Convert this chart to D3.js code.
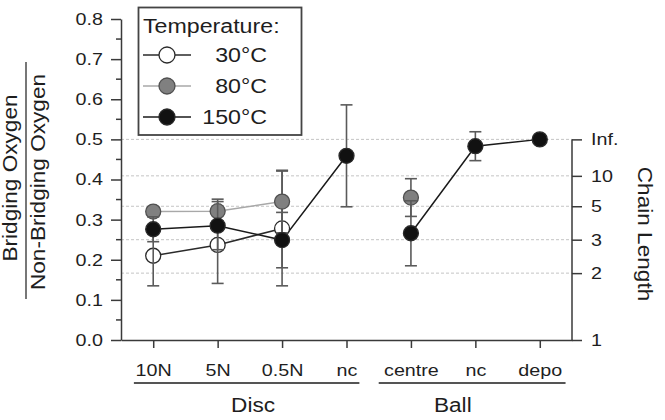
<!DOCTYPE html>
<html><head><meta charset="utf-8">
<script src="https://cdn.jsdelivr.net/npm/d3@7"></script>
<style>
body{margin:0;background:#fff}
svg{display:block}
text{font-family:"Liberation Sans",Arial,Helvetica,sans-serif;fill:#1e1e1e}
</style>
</head><body>
<svg id="chart" width="665" height="420"></svg>
<script>
// ---------------- data ----------------
const categories = ["10N", "5N", "0.5N", "nc", "centre", "nc", "depo"];
const categoryGroups = ["Disc", "Disc", "Disc", "Disc", "Ball", "Ball", "Ball"];
const groupNames = ["Disc", "Ball"];
const seriesNames = ["30°C", "80°C", "150°C"];

const values30  = [0.210, 0.237, 0.278, null, null, null, null];
const errors30  = [0.075, 0.096, 0.143, null, null, null, null];
const values80  = [0.320, 0.321, 0.345, null, 0.355, null, null];
const errors80  = [0.012, 0.030, 0.078, null, 0.047, null, null];
const values150 = [0.276, 0.285, 0.249, 0.459, 0.266, 0.483, 0.500];
const errors150 = [0.031, 0.060, 0.069, 0.127, 0.081, 0.036, null];

const leftTicks = [0.0, 0.1, 0.2, 0.3, 0.4, 0.5, 0.6, 0.7, 0.8];
const leftTickLabels = ["0.0", "0.1", "0.2", "0.3", "0.4", "0.5", "0.6", "0.7", "0.8"];
const leftMinorTicks = [0.05, 0.15, 0.25, 0.35, 0.45, 0.55, 0.65, 0.75];
const chainTicks = [1, 2, 3, 5, 10, Infinity];
const chainTickLabels = ["1", "2", "3", "5", "10", "Inf."];

// ---------------- styles ----------------
const SX = 1.16; // horizontal glyph stretch to match reference typeface metrics
const seriesStyles = [
  {fill: "#ffffff", stroke: "#2a2a2a", line: "#2a2a2a", barsAbove: true},
  {fill: "#808080", stroke: "#505050", line: "#a8a8a8", barsAbove: false},
  {fill: "#111111", stroke: "#2a2a2a", line: "#1a1a1a", barsAbove: false}
];
const seriesValues = [values30, values80, values150];
const seriesErrors = [errors30, errors80, errors150];

// chain length -> BO/NBO ratio
const ratio = L => (L === Infinity ? 0.5 : (L - 1) / (2 * (L + 1)));

const svg = d3.select("#chart");
const x = d3.scaleLinear().domain([-0.5, 6.5]).range([121, 572]);
const y = d3.scaleLinear().domain([0, 0.8]).range([340, 19]);

function stretch(sel) {
  sel.each(function () {
    const t = d3.select(this);
    const xx = +t.attr("x") || 0, yy = +t.attr("y") || 0;
    t.attr("x", 0).attr("y", 0).attr("transform", `translate(${xx},${yy}) scale(${SX},1)`);
  });
}

// ---------------- grid ----------------
svg.append("g").selectAll("line")
  .data(chainTicks.filter(L => L > 1))
  .join("line")
  .attr("x1", x(-0.5)).attr("x2", x(6.5))
  .attr("y1", d => y(ratio(d))).attr("y2", d => y(ratio(d)))
  .attr("stroke", "#c4c4c4").attr("stroke-width", 1).attr("stroke-dasharray", "3,2");

// ---------------- axes ----------------
const axisColor = "#3a3a3a";
const gl = svg.append("g").attr("transform", `translate(${x(-0.5)},0)`)
  .call(d3.axisLeft(y).tickValues(leftTicks).tickFormat((d, i) => leftTickLabels[i])
    .tickSize(10).tickSizeOuter(0).tickPadding(8));
gl.selectAll("line").attr("stroke", axisColor).attr("stroke-width", 1.5);
gl.select(".domain").attr("stroke", axisColor).attr("stroke-width", 1.5);
gl.selectAll(".tick text").attr("font-size", 17).call(stretch);
gl.selectAll(".minor").data(leftMinorTicks).join("line").attr("class", "minor")
  .attr("x1", 0).attr("x2", -5).attr("y1", d => y(d)).attr("y2", d => y(d))
  .attr("stroke", axisColor).attr("stroke-width", 1.5);

const gb = svg.append("g").attr("transform", `translate(0,${y(0)})`)
  .call(d3.axisBottom(x).tickValues(d3.range(categories.length)).tickFormat(i => categories[i])
    .tickSize(8).tickSizeOuter(0));
gb.selectAll("line").attr("stroke", axisColor).attr("stroke-width", 1.5);
gb.select(".domain").attr("stroke", axisColor).attr("stroke-width", 1.5);
gb.selectAll(".tick text").attr("font-size", 17).attr("y", 35.5).attr("dy", 0).call(stretch);

const gr = svg.append("g").attr("transform", `translate(${x(6.5)},0)`)
  .call(d3.axisRight(y).tickValues(chainTicks.map(ratio)).tickFormat((d, i) => chainTickLabels[i])
    .tickSize(10).tickPadding(9));
gr.select(".domain").remove();
gr.append("line").attr("x1", 0).attr("x2", 0).attr("y1", y(0)).attr("y2", y(ratio(Infinity)))
  .attr("stroke", axisColor).attr("stroke-width", 1.5);
gr.selectAll("line").attr("stroke", axisColor).attr("stroke-width", 1.5);
gr.selectAll(".tick text").attr("font-size", 17).call(stretch);

// group underlines + labels
const groupSpans = {Disc: [-0.3, 3.2], Ball: [3.5, 6.4]};
const groupLabelPos = {Disc: 1.55, Ball: 4.65};
groupNames.forEach(gname => {
  svg.append("line").attr("x1", x(groupSpans[gname][0])).attr("x2", x(groupSpans[gname][1]))
    .attr("y1", 383).attr("y2", 383).attr("stroke", "#555").attr("stroke-width", 2);
  svg.append("text").attr("x", x(groupLabelPos[gname])).attr("y", 412)
    .attr("text-anchor", "middle").attr("font-size", 19.5).text(gname).call(stretch);
});

// axis titles
svg.append("text").attr("font-size", 19.5).attr("text-anchor", "middle")
  .attr("transform", `translate(17,178) rotate(-90) scale(${SX},1)`).text("Bridging Oxygen");
svg.append("line").attr("x1", 26).attr("x2", 26).attr("y1", 62).attr("y2", 299)
  .attr("stroke", "#777").attr("stroke-width", 2);
svg.append("text").attr("font-size", 19.5).attr("text-anchor", "middle")
  .attr("transform", `translate(45,182) rotate(-90) scale(${SX},1)`).text("Non-Bridging Oxygen");
svg.append("text").attr("font-size", 19.5).attr("text-anchor", "middle")
  .attr("transform", `translate(638,234) rotate(90) scale(${SX},1)`).text("Chain Length");

// ---------------- series ----------------
const R = 7.5;
const line = d3.line().defined(d => d.v != null).x(d => x(d.i)).y(d => y(d.v));
const plot = svg.append("g");

seriesValues.forEach((vals, s) => {
  const pts = vals.map((v, i) => ({i, v, e: seriesErrors[s][i], g: categoryGroups[i]}));
  groupNames.forEach(gname => {
    plot.append("path").datum(pts.filter(p => p.g === gname))
      .attr("d", line).attr("fill", "none")
      .attr("stroke", seriesStyles[s].line).attr("stroke-width", 1.5);
  });
});

function drawBars(s) {
  const pts = seriesValues[s].map((v, i) => ({i, v, e: seriesErrors[s][i]})).filter(p => p.v != null && p.e != null);
  const g = plot.append("g").attr("stroke", "#5a5a5a").attr("stroke-width", 1.6);
  g.selectAll(".v").data(pts).join("line").attr("class", "v")
    .attr("x1", d => x(d.i)).attr("x2", d => x(d.i))
    .attr("y1", d => y(d.v - d.e)).attr("y2", d => y(d.v + d.e));
  [-1, 1].forEach(sg => {
    g.selectAll(".c" + (sg + 1)).data(pts).join("line").attr("class", "c" + (sg + 1))
      .attr("x1", d => x(d.i) - 6).attr("x2", d => x(d.i) + 6)
      .attr("y1", d => y(d.v + sg * d.e)).attr("y2", d => y(d.v + sg * d.e));
  });
}
function drawMarkers(s) {
  const pts = seriesValues[s].map((v, i) => ({i, v})).filter(p => p.v != null);
  plot.append("g").selectAll("circle").data(pts).join("circle")
    .attr("cx", d => x(d.i)).attr("cy", d => y(d.v)).attr("r", R)
    .attr("fill", seriesStyles[s].fill).attr("stroke", seriesStyles[s].stroke).attr("stroke-width", 1.3);
}
seriesValues.forEach((vals, s) => {
  if (seriesStyles[s].barsAbove) { drawMarkers(s); drawBars(s); }
  else { drawBars(s); drawMarkers(s); }
});

// ---------------- legend ----------------
const lg = svg.append("g");
lg.append("rect").attr("x", 138.5).attr("y", 7.5).attr("width", 163).attr("height", 127.5)
  .attr("fill", "#fff").attr("stroke", "#444").attr("stroke-width", 1.8);
lg.append("text").attr("x", 143).attr("y", 32.5).attr("font-size", 20).text("Temperature:").call(stretch);
const legendY = [55, 86, 117];
seriesNames.forEach((name, s) => {
  const cy = legendY[s];
  lg.append("line").attr("x1", 143).attr("x2", 191).attr("y1", cy).attr("y2", cy)
    .attr("stroke", seriesStyles[s].line).attr("stroke-width", 1.5);
  lg.append("circle").attr("cx", 167).attr("cy", cy).attr("r", 8)
    .attr("fill", seriesStyles[s].fill).attr("stroke", seriesStyles[s].stroke).attr("stroke-width", 1.3);
  lg.append("text").attr("x", 267).attr("y", cy + 6.5).attr("text-anchor", "end")
    .attr("font-size", 20).text(name).call(stretch);
});
</script>
</body></html>
